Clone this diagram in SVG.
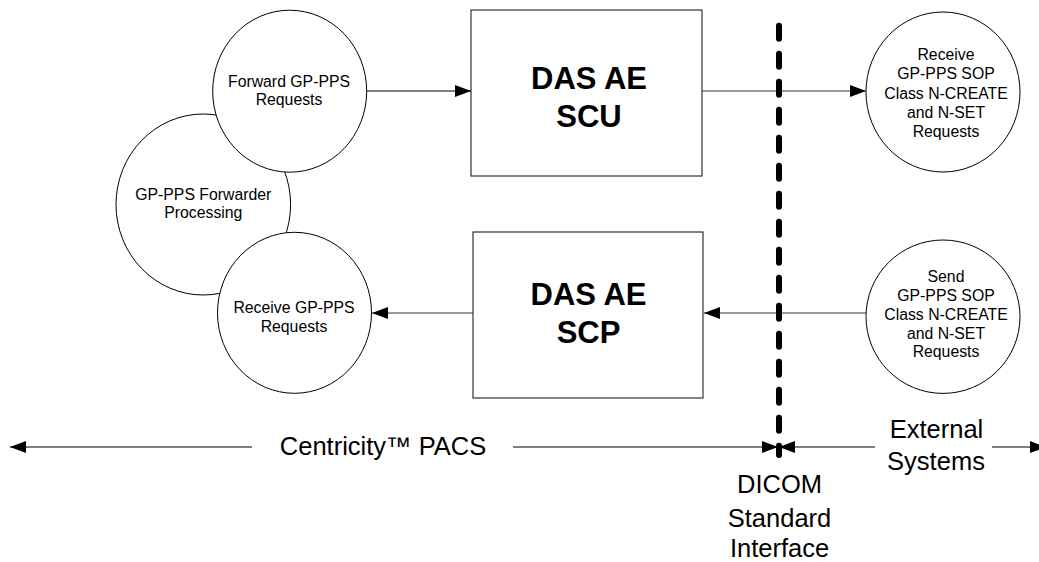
<svg xmlns="http://www.w3.org/2000/svg" width="1039" height="562" viewBox="0 0 1039 562">
<style>
.bg{fill:#fff}
.circ{fill:#fff;stroke:#000;stroke-width:1}
.box{fill:#fff;stroke:#333;stroke-width:1.2}
.ln{stroke:#000;stroke-width:1.2;fill:none}
.lg{stroke:#333;stroke-width:1.2;fill:none}
.sm{font-family:"Liberation Sans",Arial,sans-serif;font-size:15.8px;fill:#000;text-anchor:middle}
.bd{font-family:"Liberation Sans",Arial,sans-serif;font-size:31px;font-weight:bold;fill:#000;text-anchor:middle}
.lb{font-family:"Liberation Sans",Arial,sans-serif;font-size:25.5px;fill:#000;text-anchor:middle}
.dash{stroke:#000;stroke-width:6;stroke-dasharray:13 15;stroke-linecap:round;fill:none}
</style>
<defs>
<marker id="ah" viewBox="0 0 16 12" refX="16" refY="6" markerWidth="16" markerHeight="12" markerUnits="userSpaceOnUse" orient="auto">
<path d="M0,0 L16,6 L0,12 z" fill="#000"/>
</marker>
</defs>
<rect class="bg" x="0" y="0" width="1039" height="562"/>

<g id="processing">
<ellipse class="circ" cx="203.3" cy="204.5" rx="87.3" ry="90.5"/>
<text class="sm" x="203.3" y="200">GP-PPS Forwarder</text>
<text class="sm" x="203.3" y="218.3">Processing</text>
</g>
<g id="forward">
<ellipse class="circ" cx="289.7" cy="91.2" rx="77" ry="81"/>
<text class="sm" x="289" y="87.3">Forward GP-PPS</text>
<text class="sm" x="289" y="105">Requests</text>
</g>
<g id="receive">
<ellipse class="circ" cx="294.5" cy="312.8" rx="77" ry="80.5"/>
<text class="sm" x="294" y="313.3">Receive GP-PPS</text>
<text class="sm" x="294" y="331.7">Requests</text>
</g>
<g id="scu">
<rect class="box" x="471" y="10" width="231" height="166"/>
<text class="bd" x="589" y="89">DAS AE</text>
<text class="bd" x="589" y="126.7">SCU</text>
</g>
<g id="scp">
<rect class="box" x="473" y="232" width="230" height="166"/>
<text class="bd" x="588.5" y="305">DAS AE</text>
<text class="bd" x="588.5" y="342.5">SCP</text>
</g>
<g id="ext-receive">
<ellipse class="circ" cx="943" cy="92" rx="77" ry="80"/>
<text class="sm" x="946" y="60">Receive</text>
<text class="sm" x="946" y="79.3">GP-PPS SOP</text>
<text class="sm" x="946" y="99">Class N-CREATE</text>
<text class="sm" x="946" y="118.3">and N-SET</text>
<text class="sm" x="946" y="136.7">Requests</text>
</g>
<g id="ext-send">
<ellipse class="circ" cx="943" cy="316.7" rx="77" ry="76.7"/>
<text class="sm" x="946" y="281.7">Send</text>
<text class="sm" x="946" y="301">GP-PPS SOP</text>
<text class="sm" x="946" y="320">Class N-CREATE</text>
<text class="sm" x="946" y="339">and N-SET</text>
<text class="sm" x="946" y="356.7">Requests</text>
</g>

<g id="connectors">
<line class="ln" x1="367" y1="91" x2="471" y2="91" marker-end="url(#ah)"/>
<line class="lg" x1="702" y1="91" x2="866" y2="91" marker-end="url(#ah)"/>
<line class="lg" x1="866" y1="313" x2="704" y2="313" marker-end="url(#ah)"/>
<line class="lg" x1="473" y1="313" x2="372" y2="313" marker-end="url(#ah)"/>
<line class="ln" x1="252" y1="447" x2="10" y2="447" marker-end="url(#ah)"/>
<line class="ln" x1="513" y1="447" x2="778" y2="447" marker-end="url(#ah)"/>
<line class="ln" x1="875" y1="447" x2="779" y2="447" marker-end="url(#ah)"/>
<line class="ln" x1="992" y1="447" x2="1046" y2="447" marker-end="url(#ah)"/>
<line class="dash" x1="779" y1="25.7" x2="779" y2="455"/>
</g>

<g id="labels">
<text class="lb" x="383" y="455">Centricity™ PACS</text>
<text class="lb" x="936.5" y="438.3">External</text>
<text class="lb" x="936" y="470">Systems</text>
<text class="lb" x="779.5" y="493.3">DICOM</text>
<text class="lb" x="779.5" y="526.7">Standard</text>
<text class="lb" x="779.5" y="556.7">Interface</text>
</g>
</svg>
